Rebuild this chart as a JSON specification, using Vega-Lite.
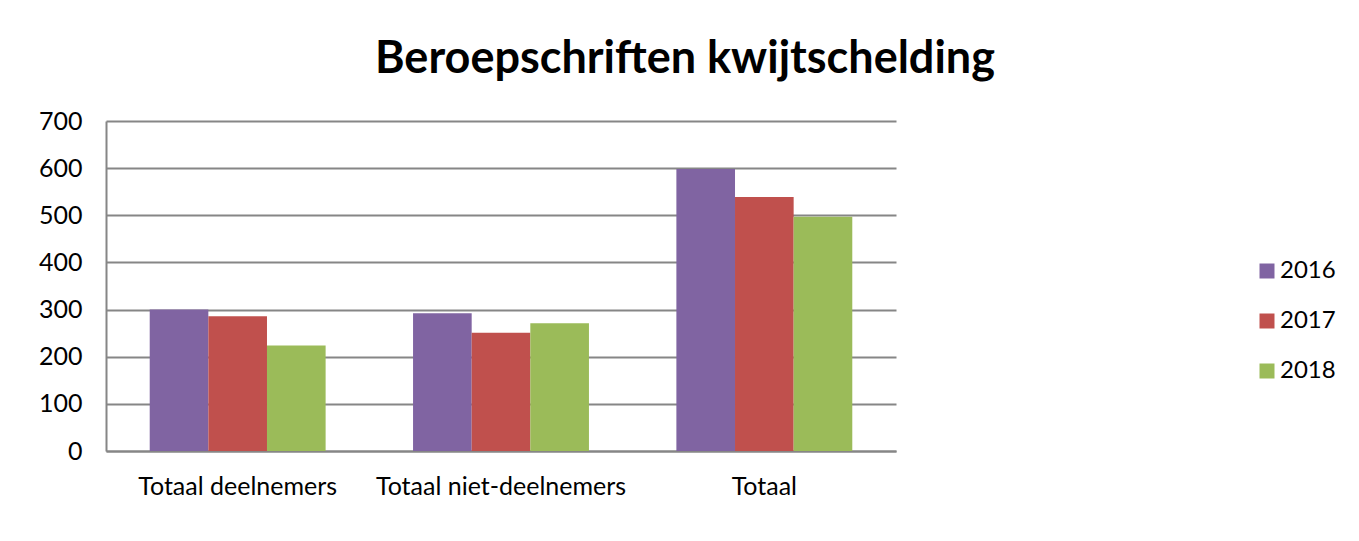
{
  "$schema": "https://vega.github.io/schema/vega-lite/v6.json",
  "autosize": {"type": "none"},
  "width": 790,
  "height": 330,
  "padding": {"left": 106, "top": 121, "right": 463, "bottom": 90},
  "background": "white",
  "title": {
    "text": "Beroepschriften kwijtschelding",
    "font": "Lato",
    "fontSize": 45,
    "fontWeight": "bold",
    "color": "#000000",
    "anchor": "middle",
    "frame": "group",
    "dx": 184,
    "dy": 45,
    "baseline": "alphabetic",
    "offset": 36
  },
  "data": {
    "values": [
      {"categorie": "Totaal deelnemers", "jaar": "2016", "aantal": 300},
      {"categorie": "Totaal deelnemers", "jaar": "2017", "aantal": 286},
      {"categorie": "Totaal deelnemers", "jaar": "2018", "aantal": 224},
      {"categorie": "Totaal niet-deelnemers", "jaar": "2016", "aantal": 292},
      {"categorie": "Totaal niet-deelnemers", "jaar": "2017", "aantal": 251},
      {"categorie": "Totaal niet-deelnemers", "jaar": "2018", "aantal": 271},
      {"categorie": "Totaal", "jaar": "2016", "aantal": 598},
      {"categorie": "Totaal", "jaar": "2017", "aantal": 539},
      {"categorie": "Totaal", "jaar": "2018", "aantal": 497}
    ]
  },
  "mark": {"type": "bar"},
  "encoding": {
    "x": {
      "field": "categorie",
      "type": "nominal",
      "sort": ["Totaal deelnemers", "Totaal niet-deelnemers", "Totaal"],
      "scale": {"paddingInner": 0.332, "paddingOuter": 0.166},
      "axis": {
        "title": null,
        "labelAngle": 0,
        "labelFont": "Lato",
        "labelFontSize": 25,
        "labelColor": "#000000",
        "labelPadding": 23,
        "labelLimit": 0,
        "ticks": false,
        "domainColor": "#868686",
        "domainWidth": 2,
        "grid": false
      }
    },
    "xOffset": {
      "field": "jaar",
      "type": "nominal",
      "scale": {"paddingInner": 0, "paddingOuter": 0}
    },
    "y": {
      "field": "aantal",
      "type": "quantitative",
      "scale": {"domain": [0, 700], "nice": false},
      "axis": {
        "title": null,
        "values": [0, 100, 200, 300, 400, 500, 600, 700],
        "labelFont": "Lato",
        "labelFontSize": 25,
        "labelColor": "#000000",
        "labelPadding": 24,
        "ticks": false,
        "domainColor": "#868686",
        "domainWidth": 2,
        "grid": true,
        "gridColor": "#868686",
        "gridWidth": 2,
        "gridOpacity": 1
      }
    },
    "color": {
      "field": "jaar",
      "type": "nominal",
      "scale": {"domain": ["2016", "2017", "2018"], "range": ["#8064A2", "#C0504D", "#9BBB59"]},
      "legend": {
        "title": null,
        "orient": "none",
        "legendX": 1149,
        "legendY": 138,
        "symbolType": "square",
        "symbolSize": 225,
        "symbolStrokeWidth": 0,
        "symbolOpacity": 1,
        "labelFont": "Lato",
        "labelFontSize": 24,
        "labelColor": "#000000",
        "labelOffset": 1,
        "rowPadding": 26
      }
    }
  },
  "config": {
    "view": {"stroke": null}
  }
}
